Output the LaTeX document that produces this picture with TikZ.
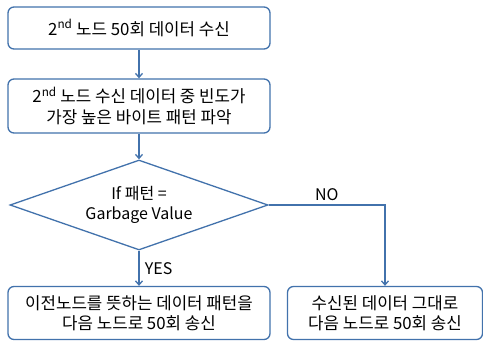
\documentclass[tikz,border=0pt]{standalone}
\usepackage{fontspec}
\setmainfont{Noto Sans CJK KR}
\usepackage{tikz}
\usepackage{xcolor}
\usetikzlibrary{shapes.geometric,arrows.meta}

\definecolor{flowblue}{RGB}{66,114,172}

\begin{document}
\begin{tikzpicture}[>={Straight Barb[length=4pt,width=7pt]}, x=1pt, y=1pt,
    line width=1.3pt,
    box/.style={draw=flowblue, rounded corners=6pt, fill=white, align=center,
        minimum width=262pt, inner sep=0pt, font=\fontsize{16.8}{20.5}\selectfont},
    cond/.style={draw=flowblue, diamond, fill=white, align=center, aspect=2.9,
        minimum width=258pt, minimum height=90pt, inner sep=0pt,
        font=\fontsize{16}{20}\selectfont},
    lbl/.style={font=\fontsize{16}{20}\selectfont}]

        \useasboundingbox (0,0) rectangle (483,341);

        % Obere Kaesten
        \node[box, minimum height=42pt] at (139,313) (recv) {2\textsuperscript{nd} 노드 50회 데이터 수신};
        \node[box, minimum height=54pt] at (139,235) (find) {2\textsuperscript{nd} 노드 수신 데이터 중 빈도가\\가장 높은 바이트 패턴 파악};

        % Entscheidung
        \node[cond] at (139,136) (check) {If 패턴 =\\Garbage Value};

        % Untere Kaesten
        \node[box, minimum height=53pt] at (139,28) (prev) {이전노드를 뜻하는 데이터 패턴을\\다음 노드로 50회 송신};
        \node[box, minimum height=53pt, minimum width=195pt] at (385,28) (pass) {수신된 데이터 그대로\\다음 노드로 50회 송신};

        % Pfeile
        \draw[->, flowblue] (recv) -- (find);
        \draw[->, flowblue] (find) -- (check);
        \draw[->, flowblue] (check) -- node[lbl, right, black, xshift=2pt] {YES} (prev);
        \draw[->, flowblue] (check.east) -| node[lbl, above, black, pos=0.25] {NO} (pass);

    \end{tikzpicture}
\end{document}
